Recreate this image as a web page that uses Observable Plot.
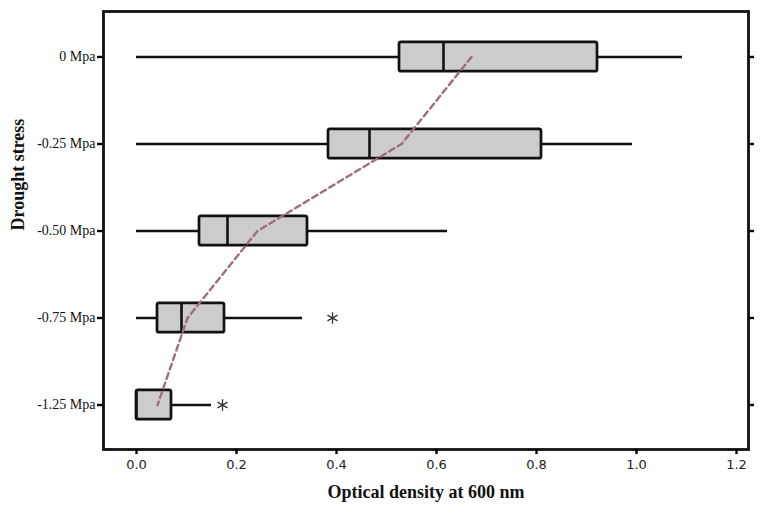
<!DOCTYPE html>
<html><head><meta charset="utf-8">
<script src="https://cdn.jsdelivr.net/npm/d3@7"></script>
<script src="https://cdn.jsdelivr.net/npm/@observablehq/plot@0.6"></script>
<style>body{margin:0;background:#fff}</style>
</head><body><div id="chart"></div>
<script>
const categories = ["0 Mpa", "-0.25 Mpa", "-0.50 Mpa", "-0.75 Mpa", "-1.25 Mpa"];
const whiskerLow = [0.0, 0.0, 0.0, 0.0, 0.0];
const q1 = [0.526, 0.384, 0.126, 0.042, 0.0];
const median = [0.614, 0.466, 0.182, 0.090, 0.0];
const q3 = [0.922, 0.810, 0.342, 0.176, 0.070];
const whiskerHigh = [1.092, 0.992, 0.622, 0.332, 0.150];
const meanValues = [0.670, 0.530, 0.242, 0.102, 0.042];
const outlierCategories = ["-0.75 Mpa", "-1.25 Mpa"];
const outlierValues = [0.392, 0.172];
const xTicks = [0, 0.2, 0.4, 0.6, 0.8, 1.0, 1.2];
const xTitle = "Optical density at 600 nm";
const yTitle = "Drought stress";

const rows = categories.map((c, i) => ({
  cat: c, lo: whiskerLow[i], q1: q1[i], med: median[i], q3: q3[i], hi: whiskerHigh[i], mean: meanValues[i]
}));
const outliers = outlierCategories.map((c, i) => ({cat: c, v: outlierValues[i]}));

const serif = "'Liberation Serif', 'DejaVu Serif', serif";
const inset = 28.8;

const chart = Plot.plot({
  width: 765,
  height: 514,
  marginLeft: 103,
  marginRight: 17,
  marginTop: 11,
  marginBottom: 65,
  style: {background: "#fff", overflow: "visible"},
  x: {domain: [-0.066, 1.224], label: null},
  y: {type: "band", domain: categories, padding: 0, label: null},
  marks: [
    Plot.ruleY(rows, {y: "cat", x1: "lo", x2: "hi", stroke: "#111", strokeWidth: 2.4}),
    Plot.barX(rows, {y: "cat", x1: "q1", x2: "q3", fill: "#cccccc", stroke: "#111", strokeWidth: 2.7, rx: 2, insetTop: inset, insetBottom: inset}),
    Plot.tickX(rows, {y: "cat", x: "med", stroke: "#111", strokeWidth: 2.6, insetTop: inset, insetBottom: inset}),
    Plot.line(rows, {y: "cat", x: "mean", stroke: "#a06e78", strokeWidth: 2.4, strokeDasharray: "6,4"}),
    Plot.dot(outliers, {y: "cat", x: "v", symbol: "asterisk", r: 5.5, stroke: "#333", strokeWidth: 1.3}),
    Plot.frame({stroke: "#111", strokeWidth: 2.8}),
    Plot.axisX({ticks: xTicks, tickFormat: d3.format(".1f"), tickSize: 5, tickPadding: 5, strokeWidth: 2.4, fontSize: 13, fontFamily: "'DejaVu Sans', sans-serif", fill: "#222", label: null}),
    Plot.axisY({anchor: "left", tickSize: 6, tickPadding: 2, strokeWidth: 2.4, fontSize: 14, fontFamily: serif, fill: "#111", label: null}),
    Plot.axisY({anchor: "right", tickSize: 5, strokeWidth: 2.4, tickFormat: () => "", label: null}),
    Plot.text([xTitle], {frameAnchor: "bottom", dy: 48, fontSize: 18, fontWeight: "bold", fontFamily: serif, fill: "#111"}),
    Plot.text([yTitle], {frameAnchor: "left", dx: -85, rotate: -90, fontSize: 18, fontWeight: "bold", fontFamily: serif, fill: "#111"})
  ]
});
document.getElementById("chart").appendChild(chart);
</script>
</body></html>
